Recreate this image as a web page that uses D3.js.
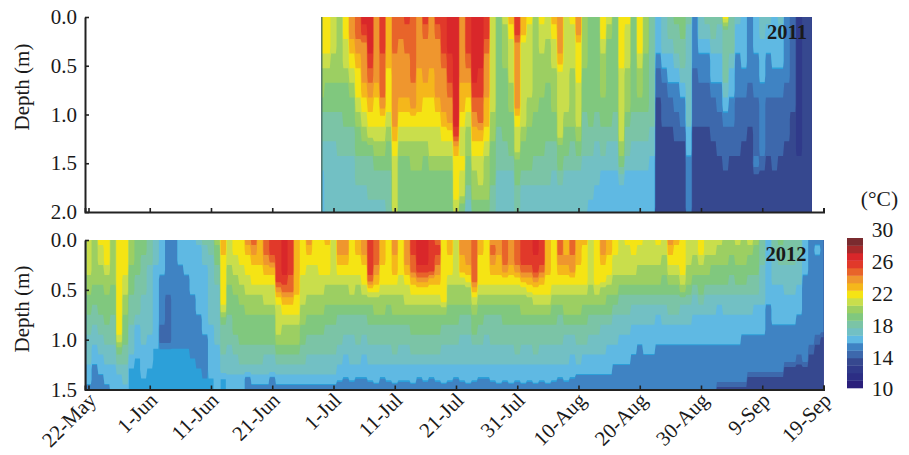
<!DOCTYPE html>
<html>
<head>
<meta charset="utf-8">
<script src="https://cdn.jsdelivr.net/npm/d3@7"></script>
<style>
  body { margin: 0; background: #fff; }
  text { font-family: "Liberation Serif", serif; fill: #1a1a1a; }
</style>
</head>
<body>
<script>
//tick labels, every 10 days from 22-May
const dateLabels = ['22-May', '1-Jun', '11-Jun', '21-Jun', '1-Jul', '11-Jul', '21-Jul', '31-Jul', '10-Aug', '20-Aug', '30-Aug', '9-Sep', '19-Sep'];
const dateTicks = [0, 10, 20, 30, 40, 50, 60, 70, 80, 90, 100, 110, 120];
const depthTicks2011 = [0, 0.5, 1, 1.5, 2];
const depthTicks2012 = [0, 0.5, 1, 1.5];
const legendLabels = [10, 14, 18, 22, 26, 30];

//1 degree classes and their colours, 15.5 in the data is the bright blue patch of June 2012
const classFloors = [10, 11, 12, 13, 14, 15, 16, 17, 18, 19, 20, 21, 22, 23, 24, 25, 26, 27, 28, 29];
const classColors = ['#2a1f7b', '#2c2e84', '#303a8a', '#36488f', '#3d68ac', '#3f83c3', '#5fb9e3', '#72c0c4', '#7bc4a6', '#80c87e', '#9ccf62', '#c9de4c', '#f5e414', '#f5b71b', '#ef962e', '#e8642a', '#e1392a', '#d9272a', '#a62a2b', '#7a2b2f'];
const brightBlue = '#2ca0d9';

//2012: first day of the profiles, depth step, one profile per day, 0.0 m to 1.5 m
const start2012 = 0;
const step2012 = 0.1;
const temp2012 = [
  [21,21,21,21,20,20,19,19,18,18,17,17,17,16,16,15],
  [20,20,20,20,20,19,19,18,18,17,17,16,16,15,15,15],
  [22,21,21,20,20,19,19,19,18,18,17,17,16,16,15,15],
  [22,22,22,21,20,20,19,19,19,18,18,17,17,16,16,15],
  [20,20,20,20,20,19,19,19,18,18,18,17,17,16,16,16],
  [22,22,22,22,22,22,22,22,22,22,21,19,18,17,16,16],
  [22,22,22,22,21,21,20,20,19,19,19,18,18,17,17,16],
  [20,20,20,19,19,19,18,18,18,17,17,17,16,15.5,15.5,15.5],
  [19,19,19,19,18,18,18,18,17,16,16,16,15.5,15.5,15.5,15.5],
  [19,19,18,18,18,18,17,17,17,17,17,16,16,16,15.5,15.5],
  [18,18,18,17,17,17,17,17,17,17,16,16,16,15.5,15.5,15.5],
  [17,17,17,16,16,16,16,16,16,16,16,15.5,15.5,15.5,15.5,15.5],
  [16,16,16,16,15,15,15,15,15,14,14,15.5,15.5,15.5,15.5,15.5],
  [15,15,15,15,15,15,14,14,14,14,14,15.5,15.5,15.5,15.5,15.5],
  [15,15,15,15,15,15,15,15,15,15,15,15.5,15.5,15.5,15.5,15.5],
  [16,16,16,15,15,15,15,15,15,15,15,15.5,15.5,15.5,15.5,15.5],
  [16,16,16,16,15,15,15,15,15,15,15,15.5,15.5,15.5,15.5,15.5],
  [16,16,16,16,16,16,15,15,15,15,15,15,15.5,15.5,15.5,15.5],
  [17,16,16,16,16,16,16,16,15,15,15,15,15,15.5,15.5,15.5],
  [18,17,17,16,16,16,16,16,16,16,15,15,15,15,15.5,15.5],
  [18,18,17,17,17,17,17,17,17,16,16,16,16,16,15.5,15.5],
  [20,19,19,18,18,17,17,17,17,17,17,16,16,16,16,16],
  [23,23,22,22,22,22,22,21,19,18,18,18,17,17,15.5,15.5],
  [21,21,21,20,20,19,19,19,18,18,18,17,17,17,16,16],
  [22,22,21,21,20,20,19,19,19,19,18,18,17,17,16,16],
  [22,22,22,21,21,20,20,19,19,19,19,18,18,17,16,16],
  [24,23,22,22,21,21,20,20,19,19,19,18,18,17,15,15],
  [25,24,23,22,22,21,20,20,19,19,19,18,18,17,16,15],
  [23,23,23,22,22,21,20,20,19,19,19,18,18,17,16,15],
  [25,25,24,23,22,21,21,20,19,19,19,18,17,17,16,15],
  [26,26,25,23,22,21,21,20,19,19,19,18,17,17,15,15],
  [26,26,26,26,26,24,22,21,21,21,20,19,18,17,16,15],
  [27,27,27,27,26,25,23,22,21,20,20,19,18,17,16,15],
  [26,26,26,26,25,25,23,22,21,20,20,19,18,17,16,15],
  [23,23,23,23,23,23,22,22,21,20,20,19,18,17,16,15],
  [22,22,22,22,21,21,21,20,20,19,19,18,18,17,16,15],
  [24,23,22,21,21,21,20,20,19,19,18,18,17,17,16,15],
  [22,22,22,21,21,21,20,20,19,19,18,18,17,17,16,15],
  [22,22,22,22,21,21,20,20,19,19,18,18,17,17,16,15],
  [23,22,22,22,21,20,20,19,19,18,18,18,17,17,16,15],
  [21,21,21,21,21,20,20,19,19,18,18,18,17,17,16,15],
  [24,24,23,22,21,20,20,19,18,18,18,17,17,16,15.6,15],
  [24,24,23,22,21,20,20,19,18,18,17,17,16,16,15.4,15],
  [22,22,22,22,21,21,20,19,18,18,17,17,17,16,15.6,15],
  [23,23,22,22,21,20,20,19,18,18,18,17,17,16,15.4,15],
  [24,24,23,22,22,21,20,19,18,18,17,17,16,16,15.4,15],
  [26,26,26,26,25,22,20,19,19,18,18,17,17,16,15.6,15],
  [25,25,25,24,23,22,20,20,19,18,18,17,17,16,15.8,15],
  [23,23,23,22,22,21,20,20,19,18,18,17,17,16,15.4,15],
  [22,22,22,22,22,21,20,19,19,18,18,17,17,16,15.6,15],
  [24,24,23,23,22,21,20,20,19,18,18,18,17,16,15.8,15],
  [22,22,22,22,21,21,20,20,19,18,18,17,17,16,15.6,15],
  [24,24,24,23,22,21,21,20,19,18,18,17,17,16,15.6,15],
  [26,26,25,25,23,22,21,20,19,19,18,18,17,16,15.8,15],
  [27,27,27,26,24,22,21,20,19,19,18,18,17,16,15.4,15],
  [27,27,27,26,24,22,21,20,19,19,18,18,17,16,15.6,15],
  [26,26,26,26,23,22,21,20,19,19,18,18,17,16,15.4,15],
  [25,26,25,24,23,22,21,20,19,19,18,18,17,16,15.6,15],
  [22,22,22,22,22,22,22,20,19,18,18,17,17,16,15.8,15],
  [23,23,22,22,21,20,20,19,19,18,18,17,17,16,15.6,15],
  [21,21,21,21,21,20,20,19,19,18,18,17,17,16,15.4,15],
  [24,24,23,23,21,20,20,19,18,18,17,17,17,16,15.6,15],
  [24,24,24,23,22,20,20,19,18,18,17,17,17,16,15.8,15],
  [25,25,25,25,25,23,21,20,19,19,18,17,17,16,15.6,15],
  [23,23,22,22,22,21,20,19,19,18,18,17,17,16,15.4,15],
  [22,22,22,22,22,21,20,19,18,18,17,17,17,16,15.4,15],
  [24,25,24,23,22,21,20,19,18,18,18,17,17,16,15.6,15],
  [24,24,23,23,22,21,20,19,18,18,18,17,17,16,15.8,15],
  [25,25,25,24,22,21,20,19,19,18,18,17,17,16,15.6,15],
  [24,24,24,23,22,21,20,19,19,18,18,17,17,16,15.8,15],
  [25,25,25,24,22,21,20,19,19,18,18,18,17,16,15.6,15],
  [26,26,26,25,23,21,20,20,19,18,18,17,17,16,15.8,15],
  [26,26,26,25,23,22,20,20,19,18,18,17,17,16,15.6,15],
  [27,27,26,26,24,22,21,20,19,18,18,18,17,16,15.8,15],
  [26,26,26,25,23,22,21,20,19,18,18,17,17,16,15.6,15],
  [23,23,23,23,22,22,21,20,19,18,18,17,17,16,15.8,15],
  [22,22,22,22,22,21,20,19,19,18,18,17,17,16,15.6,15],
  [25,25,24,23,22,21,20,19,18,18,18,17,17,16,15.4,15],
  [23,23,24,23,22,21,20,20,19,18,17,17,17,16,15.6,15],
  [25,25,24,24,22,21,20,20,19,18,17,17,16,16,15.4,15],
  [23,23,23,22,22,21,20,20,19,18,18,17,17,16,15,15],
  [23,22,22,22,22,21,20,19,19,18,18,17,16,16,15,15],
  [21,21,21,21,21,20,20,19,18,18,17,17,16,16,15,15],
  [22,22,22,22,22,21,20,19,18,18,17,17,16,16,15,15],
  [24,24,23,22,22,20,20,19,18,17,17,17,16,16,15,15],
  [23,23,22,22,21,20,19,19,18,17,17,16,16,16,15,15],
  [22,22,21,21,20,20,19,18,17,17,17,16,16,15,15,15],
  [21,21,21,21,20,19,18,18,17,17,16,16,16,15,15,15],
  [22,21,21,21,20,19,18,18,17,17,16,16,16,15,15,15],
  [22,22,21,21,20,19,18,17,17,16,16,16,15,15,15,15],
  [22,21,21,20,20,19,18,17,17,16,16,15,15,15,15,15],
  [21,21,21,20,20,19,18,17,17,16,16,16,15,15,15,15],
  [21,21,21,20,20,19,18,17,17,16,16,16,15,15,15,15],
  [22,21,21,20,20,19,18,17,16,16,16,15,15,15,15,15],
  [21,21,20,20,19,19,18,17,17,16,16,15,15,15,15,15],
  [24,23,22,21,20,19,18,18,17,16,16,15,15,15,15,15],
  [23,22,22,21,20,19,18,18,17,16,16,15,15,15,15,15],
  [22,22,22,22,21,20,18,17,17,16,16,15,15,15,15,15],
  [21,21,21,20,20,19,18,17,17,16,16,15,15,15,15,15],
  [21,21,20,20,19,18,17,17,16,16,16,15,15,15,15,15],
  [22,22,21,20,19,19,18,17,16,16,16,15,15,15,15,15],
  [21,21,20,20,19,18,17,17,16,16,16,15,15,15,15,15],
  [21,21,20,19,19,18,17,17,16,16,16,15,15,15,15,15],
  [21,20,20,19,19,18,17,16,16,16,16,15,15,15,15,13],
  [20,20,20,19,19,18,17,17,16,16,16,15,15,15,15,13],
  [20,20,19,19,18,18,17,17,16,16,16,15,15,15,15,13],
  [21,20,20,19,19,18,17,17,16,16,16,15,15,15,15,13],
  [20,20,20,19,19,18,17,17,16,16,15,15,15,15,15,13],
  [21,20,19,19,18,18,17,17,16,16,15,15,15,15,13,13],
  [20,19,19,19,18,18,17,16,16,16,15,15,15,15,13,13],
  [18,18,18,17,17,17,17,16,16,16,15,15,15,15,13,13],
  [16,16,16,16,16,16,16,15,15,15,15,15,15,15,13,13],
  [18,18,17,17,17,16,16,16,16,15,15,15,15,15,13,13],
  [19,18,18,17,17,16,16,16,16,15,15,15,15,15,13,13],
  [18,18,18,17,17,17,16,16,16,15,15,15,15,13,13,13],
  [18,18,18,17,17,17,16,16,16,15,15,15,15,13,13,13],
  [18,18,17,17,17,16,16,16,15,15,15,15,14,13,13,13],
  [16,16,16,16,15,15,15,15,15,15,15,15,15,13,13,13],
  [15,15,15,15,15,15,15,15,15,15,15,14,13,13,13,13],
  [15,16,15,15,15,15,15,15,15,15,14,13,13,13,13,13],
  [15,15,15,15,15,15,15,15,15,15,13,13,13,13,13,13]
];

//2011: logger starts later, 0.0 m to 1.95 m every 0.15 m
const start2011 = 38;
const step2011 = 0.15;
const temp2011 = [
  [22,22,22,21,20,20,19,18,18,17,17,16,16,16],
  [22,22,22,21,20,19,19,18,18,17,17,17,17,17],
  [21,21,21,20,20,19,19,18,18,17,17,17,17,17],
  [20,20,20,20,20,19,19,18,18,18,17,17,17,17],
  [22,22,21,21,20,19,19,19,18,18,17,17,17,17],
  [24,24,23,22,21,20,19,19,18,18,17,17,17,17],
  [25,25,24,23,22,22,21,20,19,19,18,18,17,17],
  [27,26,24,24,24,23,22,21,20,19,18,18,17,17],
  [27,27,27,26,25,24,23,22,21,19,18,18,18,17],
  [24,24,24,24,24,23,22,22,21,20,19,18,18,17],
  [26,26,26,25,25,25,24,22,21,20,19,18,18,17],
  [23,23,23,23,22,22,22,21,20,19,19,18,18,18],
  [25,25,25,24,24,24,24,24,23,22,21,21,21,21],
  [25,25,24,24,24,24,23,22,21,20,19,19,19,19],
  [26,25,25,24,24,24,23,22,21,20,19,19,19,19],
  [25,25,25,25,25,24,24,22,21,20,20,19,19,19],
  [24,24,24,24,23,23,23,22,21,20,20,19,19,19],
  [26,25,24,24,24,23,22,22,21,20,19,19,19,19],
  [24,24,24,24,23,23,22,22,21,21,20,19,19,19],
  [26,25,24,24,24,24,23,22,21,21,20,19,19,19],
  [26,26,26,25,24,24,24,23,22,21,20,19,19,19],
  [27,27,27,26,26,25,24,24,22,21,20,19,19,19],
  [27,27,27,27,27,27,27,27,26,23,22,22,22,21],
  [24,24,24,24,24,23,23,22,21,21,22,21,21,19],
  [26,26,26,25,24,23,22,21,20,20,19,19,18,17],
  [27,27,27,27,27,26,25,24,23,22,21,20,20,19],
  [27,27,27,27,26,26,25,25,23,22,21,21,20,19],
  [26,26,25,24,24,24,23,23,22,21,20,20,20,19],
  [21,21,21,21,21,21,21,20,20,19,19,19,18,18],
  [19,19,19,19,19,19,19,19,18,18,18,17,17,17],
  [21,20,20,20,19,19,19,19,19,18,18,17,17,17],
  [23,22,21,21,21,20,20,19,19,19,18,17,17,17],
  [26,26,24,24,24,24,24,22,21,21,19,19,18,18],
  [23,23,21,21,21,21,21,21,20,19,19,18,17,17],
  [22,21,21,21,21,21,20,20,19,19,19,18,17,17],
  [20,20,20,20,20,20,20,19,19,19,18,18,17,17],
  [22,21,21,20,20,20,19,19,19,19,18,18,17,17],
  [21,21,20,20,20,19,19,19,19,18,18,18,17,17],
  [23,22,21,21,20,20,20,19,19,18,18,17,17,17],
  [24,24,24,23,21,21,21,21,21,19,19,18,17,17],
  [21,21,21,21,21,21,21,20,19,19,18,17,17,17],
  [22,21,21,21,20,20,20,20,19,18,18,17,17,17],
  [24,24,22,22,22,21,21,21,20,19,18,17,17,17],
  [20,20,20,20,19,19,19,18,18,18,17,17,17,17],
  [19,19,19,19,19,19,19,19,18,18,17,17,17,16],
  [19,19,19,19,19,19,19,18,18,17,17,17,16,16],
  [22,22,21,20,20,20,19,19,18,18,17,16,16,16],
  [21,20,19,19,19,19,19,19,18,17,17,16,16,16],
  [19,19,19,19,19,19,19,18,18,17,17,16,16,16],
  [22,22,22,22,21,21,21,21,21,20,19,17,16,16],
  [22,21,21,21,20,20,20,19,18,18,17,16,16,16],
  [19,19,19,19,19,19,19,18,18,17,17,16,16,16],
  [22,22,22,21,20,20,19,18,18,17,17,16,16,16],
  [20,20,20,19,19,19,19,18,18,17,17,16,16,16],
  [18,18,18,18,18,18,18,18,17,17,16,16,16,16],
  [16,16,16,15,14,14,13,13,13,13,13,13,13,13],
  [17,17,17,16,15,14,14,14,13,13,13,13,13,13],
  [18,18,17,16,16,15,14,14,13,13,13,13,13,13],
  [19,18,18,17,16,15,15,14,14,13,13,13,13,13],
  [19,19,18,18,17,16,15,15,14,13,13,13,13,13],
  [18,17,17,17,17,17,17,17,16,16,15,15,15,15],
  [15,15,15,15,14,14,14,14,13,13,13,13,13,13],
  [17,17,16,15,15,14,14,14,13,13,13,13,13,13],
  [18,17,16,15,15,14,14,14,13,13,13,13,13,13],
  [18,18,17,16,16,15,14,14,14,13,13,13,13,13],
  [18,17,17,16,16,15,15,14,14,14,13,13,13,13],
  [22,18,18,18,18,17,16,15,14,14,14,13,13,13],
  [18,18,18,17,16,16,15,15,14,14,13,13,13,13],
  [17,16,16,15,15,15,14,14,14,14,13,13,13,13],
  [16,16,16,16,15,15,14,14,14,13,13,13,13,13],
  [15,15,15,15,15,14,14,14,13,13,13,13,13,13],
  [16,16,16,15,15,15,14,14,14,14,15,13,13,13],
  [17,17,16,16,16,15,15,15,15,15,14,13,13,13],
  [17,16,16,15,15,15,14,14,14,14,13,13,13,13],
  [16,16,16,16,15,15,14,14,14,14,14,13,13,13],
  [17,16,16,16,15,15,14,14,14,14,13,13,13,13],
  [15,15,15,15,15,14,14,14,14,13,13,13,13,13],
  [14,14,14,14,14,14,14,13,13,13,13,13,13,13],
  [12,12,12,12,12,12,12,12,12,12,13,13,13,13],
  [13,13,13,13,13,13,13,13,13,13,13,13,13,13],
  [13,13,13,13,13,13,13,13,13,13,13,13,13,13]
];

const w = 909;
const h = 455;

const svg = d3.select('body')
  .append('svg')
  .attr('width', w)
  .attr('height', h)
  .style('display', 'block');

//same time axis for both panels
const xScale = d3.scaleLinear().domain([-0.57, 120]).range([85, 823.5]);

//contour levels are the class floors, plus a very narrow level for the bright blue
const levels = [];
classFloors.forEach((t, i) => {
  levels.push({ value: t === 16 ? 16.05 : t, color: classColors[i] });
  if (t === 15) levels.push({ value: 15.95, color: brightBlue });
});

//each day is repeated so the bands keep straight sides from one day to the next
const dayRepeat = 5;

//draws one filled contour panel from a day by depth table
const drawPanel = (temps, startDay, step, name, yScale, firstDay, lastDay) => {
  const cols = temps.length;
  const rows = temps[0].length;
  const grid = [];
  //values are read as 1 degree classes, so each one sits in the middle of its class
  for (let r = 0; r < rows; r++) {
    for (let c = 0; c < cols; c++) {
      for (let k = 0; k < dayRepeat; k++) grid.push(temps[c][r] + 0.5);
    }
  }

  const contours = d3.contours()
    .size([cols * dayRepeat, rows])
    .thresholds(levels.map((d) => d.value))(grid);

  const path = d3.geoPath(d3.geoTransform({
    point: function (x, y) {
      this.stream.point(xScale(startDay + x / dayRepeat - 0.5), yScale((y - 0.5) * step));
    }
  }));

  const yRange = yScale.range();
  svg.append('clipPath')
    .attr('id', 'clip' + name)
    .append('rect')
    .attr('x', xScale(firstDay))
    .attr('y', yRange[0])
    .attr('width', xScale(lastDay) - xScale(firstDay))
    .attr('height', yRange[1] - yRange[0]);

  svg.append('g')
    .attr('clip-path', `url(#clip${name})`)
    .selectAll('path')
    .data(contours)
    .enter()
    .append('path')
    .attr('d', path)
    .attr('fill', (d, i) => levels[i].color);
};

const styleAxis = (g, size) => {
  g.selectAll('.domain').attr('stroke', '#222').attr('stroke-width', 2);
  g.selectAll('.tick line').attr('stroke', '#222').attr('stroke-width', 1.6);
  g.selectAll('.tick text').attr('fill', '#1a1a1a').style('font-size', size + 'px')
    .style('font-family', '"Liberation Serif", serif');
};

//2011 panel
const y2011 = d3.scaleLinear().domain([0, 2]).range([17, 212]);
drawPanel(temp2011, start2011, step2011, '2011', y2011, 38.1, 118.1);

//the series starts on a dark edge
svg.append('line')
  .attr('x1', xScale(38.1)).attr('x2', xScale(38.1))
  .attr('y1', y2011(0)).attr('y2', y2011(2))
  .attr('stroke', '#4b6a58')
  .attr('stroke-width', 1.2);

//2012 panel
const y2012 = d3.scaleLinear().domain([0, 1.5]).range([240, 389.5]);
drawPanel(temp2012, start2012, step2012, '2012', y2012, -0.3, 120);

//x axes, ticks point into the panel
const xAxisTop = d3.axisBottom(xScale).tickValues(dateTicks).tickSize(-4).tickFormat('');
svg.append('g')
  .attr('transform', `translate(0, ${y2011(2)})`)
  .call(xAxisTop)
  .call(styleAxis, 21);

const xAxisBottom = d3.axisBottom(xScale)
  .tickValues(dateTicks)
  .tickSize(-4)
  .tickFormat((d, i) => dateLabels[i]);
svg.append('g')
  .attr('transform', `translate(0, ${y2012(1.5)})`)
  .call(xAxisBottom)
  .call(styleAxis, 21)
  .selectAll('.tick text')
  .attr('text-anchor', 'end')
  .attr('transform', 'rotate(-45)')
  .attr('x', -2.5)
  .attr('y', 14.5)
  .attr('dy', 0);

//y axes
const yAxisTop = d3.axisLeft(y2011).tickValues(depthTicks2011).tickSizeInner(-4).tickSizeOuter(0)
  .tickPadding(8).tickFormat(d3.format('.1f'));
svg.append('g')
  .attr('transform', `translate(${xScale.range()[0]}, 0)`)
  .call(yAxisTop)
  .call(styleAxis, 21);

const yAxisBottom = d3.axisLeft(y2012).tickValues(depthTicks2012).tickSizeInner(-4).tickSizeOuter(0)
  .tickPadding(8).tickFormat(d3.format('.1f'));
svg.append('g')
  .attr('transform', `translate(${xScale.range()[0]}, 0)`)
  .call(yAxisBottom)
  .call(styleAxis, 21);

//axis titles, sit beside the upper part of each panel
[[87], [309]].forEach(([mid]) => {
  svg.append('text')
    .attr('transform', `translate(29, ${mid}) rotate(-90)`)
    .attr('text-anchor', 'middle')
    .style('font-size', '21px')
    .text('Depth (m)');
});

//year labels
svg.append('text').attr('x', 787).attr('y', 39).attr('text-anchor', 'middle')
  .style('font-size', '20.5px').style('font-weight', 'bold').text('2011');
svg.append('text').attr('x', 786).attr('y', 261).attr('text-anchor', 'middle')
  .style('font-size', '20.5px').style('font-weight', 'bold').text('2012');

//colour bar
const legendScale = d3.scaleLinear().domain([10, 30]).range([388, 238]);
svg.append('g')
  .selectAll('rect')
  .data(classFloors)
  .enter()
  .append('rect')
  .attr('x', 847)
  .attr('width', 16)
  .attr('y', (d) => legendScale(d + 1))
  .attr('height', (d) => legendScale(d) - legendScale(d + 1) + 0.3)
  .attr('fill', (d, i) => classColors[i]);

const legendLabelScale = d3.scaleLinear().domain([10, 30]).range([389, 230]);
svg.append('g')
  .selectAll('text')
  .data(legendLabels)
  .enter()
  .append('text')
  .attr('x', 882.5)
  .attr('y', (d) => legendLabelScale(d))
  .attr('dy', '0.34em')
  .attr('text-anchor', 'middle')
  .style('font-size', '21.5px')
  .text((d) => d);

svg.append('text')
  .attr('x', 879.5)
  .attr('y', 206)
  .attr('text-anchor', 'middle')
  .style('font-size', '21.5px')
  .text('(°C)');
</script>
</body>
</html>
